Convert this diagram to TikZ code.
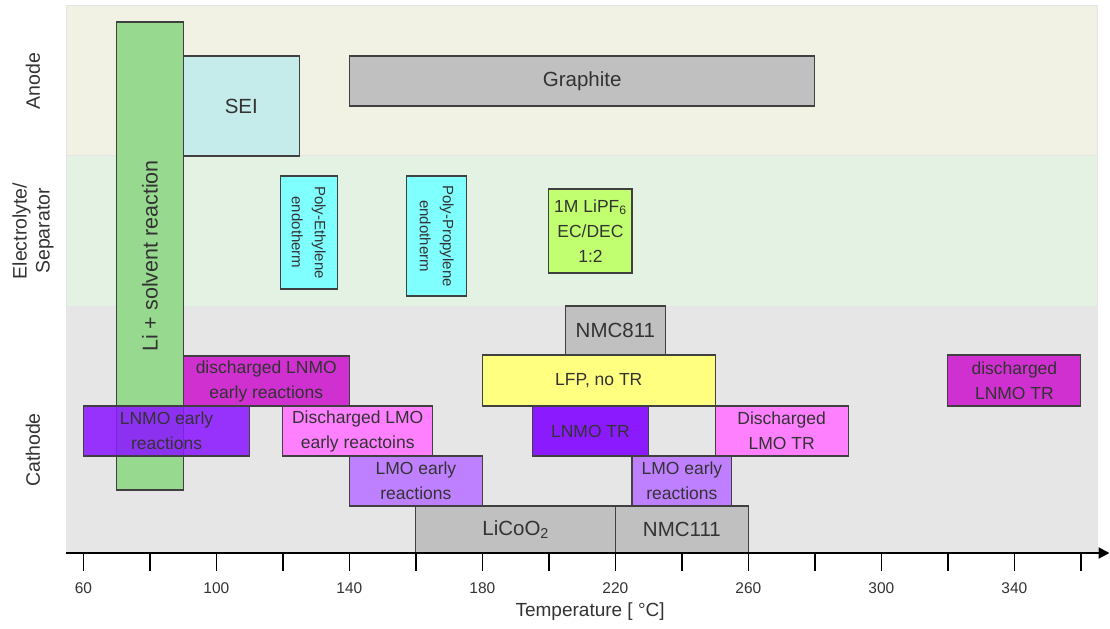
\documentclass[tikz,border=0pt]{standalone}
\usepackage{fontspec}
\setmainfont{Liberation Sans}
\usetikzlibrary{arrows.meta}

\definecolor{anodebg}{HTML}{F2F2E4}
\definecolor{elecbg}{HTML}{E3F2E3}
\definecolor{cathbg}{HTML}{E6E6E6}
\definecolor{txtgray}{HTML}{333333}
\definecolor{lisolv}{HTML}{97D98F}
\definecolor{seicol}{HTML}{C5EBEA}
\definecolor{greycell}{HTML}{C0C0C0}
\definecolor{polycol}{HTML}{80FFFF}
\definecolor{saltcol}{HTML}{C2FF70}
\definecolor{lfpcol}{HTML}{FFFF80}
\definecolor{lnmocol}{HTML}{8C1AFF}
\definecolor{dlnmocol}{HTML}{CF30CF}
\definecolor{dlmocol}{HTML}{FF80FF}
\definecolor{lmocol}{HTML}{BF80FF}

\tikzset{
  band/.style={draw=black!10, line width=1pt},
  rbox/.style={draw=black!75, line width=1.1pt},
  boxtxt/.style={text=txtgray, align=center, font=\fontsize{17.5}{25}\selectfont},
  bigtxt/.style={text=txtgray, align=center, font=\fontsize{20.5}{24}\selectfont},
  polytxt/.style={text=txtgray, align=center, rotate=-90, font=\fontsize{15}{23}\selectfont},
  sidetxt/.style={text=txtgray, align=center, rotate=90, font=\fontsize{19.5}{23}\selectfont},
  ticklbl/.style={text=txtgray, font=\fontsize{15.5}{18}\selectfont},
  tick/.style={draw=black, line width=1.3pt}
}

\begin{document}
\begin{tikzpicture}[x=3.325pt, y=-1pt]
\useasboundingbox (34.92,0) rectangle (368.75,628);

% rows
\draw[band, fill=anodebg] (54.77,6) rectangle (365.1,156);
\draw[band, fill=elecbg] (54.77,156) rectangle (365.1,306);
\draw[band, fill=cathbg] (54.77,306) rectangle (365.1,553);
\node[sidetxt] (anode) at (44.84,81) {Anode};
\node[sidetxt] (elec) at (44.84,231) {Electrolyte/\\Separator};
\node[sidetxt] (cath) at (44.84,450) {Cathode};

% anode + electrolyte
\draw[rbox, fill=lisolv] (70,22) rectangle (90,490);
\node[sidetxt, font=\fontsize{21.5}{24}\selectfont] (lisol) at (80,256) {Li + solvent reaction};
\draw[rbox, fill=seicol] (90,56) rectangle (125,156);
\node[bigtxt] (sei) at (107.5,106) {SEI};
\draw[rbox, fill=greycell] (140,56) rectangle (280,106);
\node[bigtxt] (graph) at (210,81) {Graphite};
\draw[rbox, fill=polycol] (119.2,176) rectangle (136.3,289);
\node[polytxt] (pe) at (127.75,232.5) {Poly-Ethylene\\endotherm};
\draw[rbox, fill=polycol] (157.3,176) rectangle (175.2,296);
\node[polytxt] (pp) at (166.25,236) {Poly-Propylene\\endotherm};
\draw[rbox, fill=saltcol] (200,189) rectangle (225,273);
\node[boxtxt] (salt) at (212.5,231) {1M LiPF\textsubscript{6}\\EC/DEC\\1:2};

% cathode
\draw[rbox, fill=greycell] (205,306) rectangle (235,355);
\node[bigtxt] (nmc811) at (220,330.5) {NMC811};
\draw[rbox, fill=dlnmocol] (90,356) rectangle (140,406);
\node[boxtxt] (dlnmoe) at (115,381) {discharged LNMO\\early reactions};
\draw[rbox, fill=lfpcol] (180,355) rectangle (250,406);
\node[boxtxt] (lfp) at (215,380.5) {LFP, no TR};
\draw[rbox, fill=dlnmocol] (320,355) rectangle (360,406);
\node[boxtxt] (dlnmotr) at (340,380.5) {discharged\\LNMO TR};
\draw[rbox, fill=lnmocol, fill opacity=0.88] (60,406) rectangle (110,456);
\node[boxtxt] (lnmoe) at (85,431) {LNMO early\\reactions};
\draw[rbox, fill=dlmocol] (120,406) rectangle (165,456);
\node[boxtxt] (dlmoe) at (142.5,431) {Discharged LMO\\early reactoins};
\draw[rbox, fill=lnmocol] (195,406) rectangle (230,456);
\node[boxtxt] (lnmotr) at (212.5,431) {LNMO TR};
\draw[rbox, fill=dlmocol] (250,406) rectangle (290,456);
\node[boxtxt] (dlmotr) at (270,431) {Discharged\\LMO TR};
\draw[rbox, fill=lmocol] (140,456) rectangle (180,506);
\node[boxtxt] (lmoa) at (160,481) {LMO early\\reactions};
\draw[rbox, fill=lmocol] (225,456) rectangle (255,506);
\node[boxtxt] (lmob) at (240,481) {LMO early\\reactions};
\draw[rbox, fill=greycell] (160,506) rectangle (220,553);
\node[bigtxt] (lco) at (190,529.5) {LiCoO\textsubscript{2}};
\draw[rbox, fill=greycell] (220,506) rectangle (260,553);
\node[bigtxt] (nmc111) at (240,529.5) {NMC111};

% axis
\coordinate (xstart) at (54.77,553);
\coordinate (xend) at (368.6,553);
\draw[line width=2pt, -{Triangle[length=11pt,width=11pt]}] (xstart) -- (xend);
\foreach \t in {60,80,...,360}
  \draw[tick] (\t,553) -- (\t,571);
\foreach \t in {60,100,...,340}
  \node[ticklbl] (t\t) at (\t,588) {\t};
\node[ticklbl, font=\fontsize{19}{22}\selectfont] (xlabel) at (212.4,612) {Temperature [ °C]};
\end{tikzpicture}
\end{document}
